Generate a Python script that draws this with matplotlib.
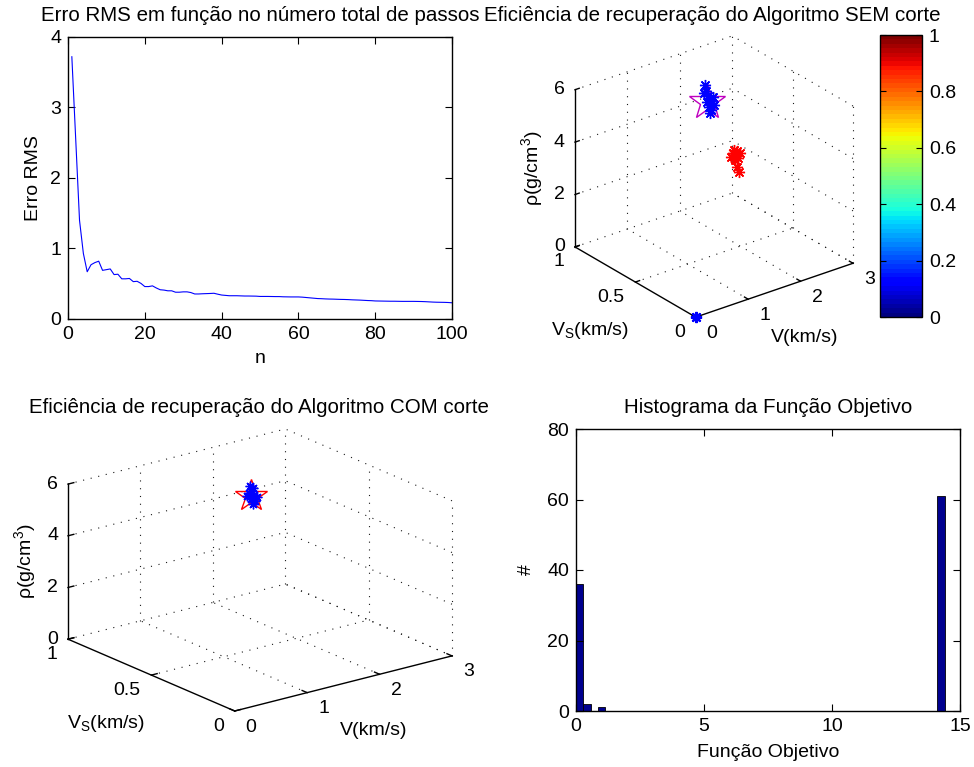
import numpy as np
import matplotlib
matplotlib.use("Agg")
import matplotlib.pyplot as plt
from matplotlib import colors
from mpl_toolkits.mplot3d import proj3d

plt.rcParams['font.family'] = ['Liberation Sans', 'DejaVu Sans']
plt.rcParams['font.size'] = 14
plt.rcParams['axes.titlesize'] = 14.8
plt.rcParams['mathtext.fontset'] = 'custom'
plt.rcParams['mathtext.rm'] = 'Liberation Sans'
plt.rcParams['mathtext.it'] = 'Liberation Sans:italic'

# ---- data ----
# RMS error vs total number of steps
n_steps = np.arange(1, 101)
rms_error = [3.72, 2.56, 1.40, 0.93, 0.67, 0.77, 0.80, 0.82, 0.69, 0.70,
             0.71, 0.63, 0.635, 0.57, 0.57, 0.575, 0.53, 0.535, 0.505, 0.46,
             0.46, 0.47, 0.44, 0.415, 0.41, 0.40, 0.40, 0.38, 0.38, 0.385,
             0.385, 0.375, 0.355, 0.355, 0.358, 0.36, 0.362, 0.365, 0.352, 0.34,
             0.335, 0.33, 0.33, 0.33, 0.328, 0.326, 0.326, 0.325, 0.324, 0.32,
             0.32, 0.32, 0.319, 0.318, 0.318, 0.315, 0.314, 0.313, 0.313, 0.313,
             0.31, 0.305, 0.30, 0.295, 0.29, 0.288, 0.285, 0.283, 0.282, 0.28,
             0.278, 0.277, 0.275, 0.272, 0.27, 0.268, 0.265, 0.262, 0.26, 0.256,
             0.255, 0.254, 0.253, 0.252, 0.252, 0.251, 0.25, 0.25, 0.25, 0.25,
             0.249, 0.248, 0.246, 0.243, 0.24, 0.238, 0.237, 0.236, 0.234, 0.23]

# objective function histogram (50 bins between 0 and 14.4)
hist_edges = np.linspace(0, 14.4, 51)
hist_counts = [36, 2, 0, 1] + [0] * 45 + [61]

# true model (V, Vs, rho)
true_v, true_vs, true_rho = 1.6, 0.6, 5.5

# inversion results without cut
sem_good_v = [1.56, 1.58, 1.62, 1.66, 1.70, 1.64, 1.68, 1.73, 1.60, 1.71, 1.54, 1.66]
sem_good_vs = [0.6] * 12
sem_good_rho = [6.20, 5.93, 5.71, 5.57, 5.39, 5.28, 5.14, 5.30, 5.50, 5.61, 5.89, 5.04]
sem_zero_v = [0.0, 0.0]
sem_zero_vs = [0.0, 0.0]
sem_zero_rho = [0.0, 0.0]
sem_bad_v = [2.15, 2.10, 2.19, 2.13, 2.23, 2.06, 2.17, 2.12, 2.17, 2.21]
sem_bad_vs = [0.6] * 10
sem_bad_rho = [3.06, 3.22, 2.95, 2.92, 3.13, 3.09, 3.24, 3.30, 2.62, 2.40]

# inversion results with cut
com_v = [1.59, 1.62, 1.65, 1.61, 1.66, 1.58, 1.69, 1.64, 1.55, 1.64]
com_vs = [0.6] * 10
com_rho = [5.92, 5.70, 5.53, 5.40, 5.29, 5.66, 5.43, 5.19, 5.56, 5.81]

v_ticks = [0, 1, 2, 3]
vs_ticks = [0, 0.5, 1]
rho_ticks = [0, 2, 4, 6]
cbar_ticks = [0, 0.2, 0.4, 0.6, 0.8, 1]
cbar_labels = ['0', '0.2', '0.4', '0.6', '0.8', '1']

W, H = 974, 767
fig = plt.figure(figsize=(W / 100, H / 100), dpi=100)


def px_rect(left, top, right, bottom):
    return [left / W, 1 - bottom / H, (right - left) / W, (bottom - top) / H]


def style_2d(ax):
    ax.tick_params(direction='in', top=True, right=True, length=5, width=0.8, pad=5)
    for sp in ax.spines.values():
        sp.set_linewidth(1.0)


# ---- top left: RMS error ----
ax1 = fig.add_axes(px_rect(68, 37, 452, 319))
ax1.plot(n_steps, rms_error, color='b', lw=0.8)
ax1.set_xlim(0, 100)
ax1.set_ylim(0, 4)
ax1.set_xticks([0, 20, 40, 60, 80, 100])
ax1.set_yticks([0, 1, 2, 3, 4])
ax1.set_xlabel('n', labelpad=5)
ax1.set_ylabel('Erro RMS', labelpad=5.5)
ax1.set_title('Erro RMS em função no número total de passos', pad=11.5)
style_2d(ax1)

# ---- bottom right: histogram ----
ax4 = fig.add_axes(px_rect(576, 429, 960, 711))
ax4.bar(hist_edges[:-1], hist_counts, width=np.diff(hist_edges), align='edge',
        color=(0, 0, 0.5625), edgecolor='k', lw=0.6)
ax4.set_xlim(0, 15)
ax4.set_ylim(0, 80)
ax4.set_xticks([0, 5, 10, 15])
ax4.set_yticks([0, 20, 40, 60, 80])
ax4.set_xlabel('Função Objetivo', labelpad=6.5)
ax4.set_ylabel('#', labelpad=9)
ax4.set_title('Histograma da Função Objetivo', pad=11.5)
style_2d(ax4)


# ---- 3D helpers ----
def label3d(ax, x, y, z, text, dx, dy, **kw):
    px, py, _ = proj3d.proj_transform(np.array([x]), np.array([y]), np.array([z]), ax.get_proj())
    ax.annotate(text, (px[0], py[0]), xytext=(dx, dy), textcoords='offset pixels',
                annotation_clip=False, **kw)


def setup_3d(ax, elev, zaspect):
    ax.set_proj_type('ortho')
    ax.view_init(elev=elev, azim=-127.5)
    ax.set_box_aspect((1, 1, zaspect))
    ax.set_xlim(0, 3)
    ax.set_ylim(0, 1)
    ax.set_zlim(0, 6)
    ax.set_axis_off()
    ax.patch.set_visible(False)
    grid_kw = dict(color='0.1', ls=(0, (1, 6)), lw=0.8, zorder=1)
    for v in v_ticks[1:]:
        ax.plot([v, v], [1, 1], [0, 6], **grid_kw)
        ax.plot([v, v], [0, 1], [0, 0], **grid_kw)
    for s in vs_ticks[:-1]:
        ax.plot([3, 3], [s, s], [0, 6], **grid_kw)
    for s in vs_ticks[1:]:
        ax.plot([0, 3], [s, s], [0, 0], **grid_kw)
    for z in rho_ticks[1:]:
        ax.plot([0, 3], [1, 1], [z, z], **grid_kw)
        ax.plot([3, 3], [0, 1], [z, z], **grid_kw)
    ax.plot([3, 3], [0, 1], [0, 0], **grid_kw)
    # solid axes
    line_kw = dict(color='k', lw=1.0, zorder=2)
    ax.plot([0, 0], [1, 1], [0, 6], **line_kw)
    ax.plot([0, 3], [0, 0], [0, 0], **line_kw)
    ax.plot([0, 0], [0, 1], [0, 0], **line_kw)
    for z in rho_ticks:
        ax.plot([0, 0.08], [1, 1], [z, z], **line_kw)
        label3d(ax, 0, 1, z, str(z), -10, 0, ha='right', va='center')
    for s, lab in zip(vs_ticks, ['0', '0.5', '1']):
        ax.plot([0, 0.08], [s, s], [0, 0], **line_kw)
        label3d(ax, 0, s, 0, lab, -11, -15, ha='right', va='center')
    for v in v_ticks:
        ax.plot([v, v], [0, 0.03], [0, 0], **line_kw)
        label3d(ax, v, 0, 0, str(v), 11, -16, ha='left', va='center')
    label3d(ax, 1.5, 0, 0, 'V(km/s)', 30, -47, ha='center', va='center')
    label3d(ax, 0, 0.5, 0, r'V$_{\rm S}$(km/s)', -45, -48, ha='center', va='center')
    label3d(ax, 0, 1, 3, 'ρ(g/cm$^3$)', -43, 0, ha='center', va='center',
            rotation=90)


def fit_3d(ax, left, top, right, bottom):
    # move/scale the 3D axes so the projected box lands on the target pixels
    fig.canvas.draw()
    cx = np.array([0, 3, 0, 3, 0, 3, 0, 3])
    cy = np.array([0, 0, 1, 1, 0, 0, 1, 1])
    cz = np.array([0, 0, 0, 0, 6, 6, 6, 6])
    xs, ys, _ = proj3d.proj_transform(cx, cy, cz, ax.get_proj())
    pts = ax.transData.transform(np.column_stack([xs, ys]))
    s = (right - left) / (pts[:, 0].max() - pts[:, 0].min())
    pos = ax.get_position(original=True)
    axc = np.array([(pos.x0 + pos.x1) / 2 * W, (pos.y0 + pos.y1) / 2 * H])
    bc = np.array([(pts[:, 0].min() + pts[:, 0].max()) / 2,
                   (pts[:, 1].min() + pts[:, 1].max()) / 2])
    tc = np.array([(left + right) / 2, H - (top + bottom) / 2])
    nc = tc - s * (bc - axc)
    w, h = pos.width * W * s, pos.height * H * s
    ax.set_position([(nc[0] - w / 2) / W, (nc[1] - h / 2) / H, w / W, h / H])


# ---- top right: without cut ----
ax2 = fig.add_axes(px_rect(544, 6, 884, 346), projection='3d', computed_zorder=False)
setup_3d(ax2, 26.5, 0.886)
ax2.plot([true_v], [true_vs], [true_rho], ls='none', marker='*', ms=27,
         mfc='none', mec='m', mew=1.0, zorder=3)
ax2.plot(sem_good_v, sem_good_vs, sem_good_rho, ls='none', marker=(8, 2, 0),
         ms=8, color='b', mew=1.0, zorder=4)
ax2.plot(sem_zero_v, sem_zero_vs, sem_zero_rho, ls='none', marker=(8, 2, 0),
         ms=8, color='b', mew=1.5, zorder=4)
ax2.plot(sem_bad_v, sem_bad_vs, sem_bad_rho, ls='none', marker=(8, 2, 0),
         ms=8, color='r', mew=1.0, zorder=4)
fig.text(712 / W, 1 - 21 / H, 'Eficiência de recuperação do Algoritmo SEM corte',
         ha='center', va='baseline', fontsize=14.8)

cax = fig.add_axes(px_rect(880, 35, 922, 317))
sm = plt.cm.ScalarMappable(norm=colors.Normalize(0, 1), cmap=plt.get_cmap('jet', 64))
cb = fig.colorbar(sm, cax=cax, ticks=cbar_ticks)
cb.set_ticklabels(cbar_labels)
cax.tick_params(direction='in', left=True, right=True, length=4, width=0.8, pad=5)
cb.outline.set_linewidth(1.0)

# ---- bottom left: with cut ----
ax3 = fig.add_axes(px_rect(30, 340, 490, 800), projection='3d', computed_zorder=False)
setup_3d(ax3, 19.3, 0.60)
ax3.plot([true_v], [true_vs], [true_rho], ls='none', marker='*', ms=24,
         mfc='none', mec='r', mew=1.0, zorder=3)
ax3.plot(com_v, com_vs, com_rho, ls='none', marker=(8, 2, 0),
         ms=7, color='b', mew=1.0, zorder=4)
fig.text(259 / W, 1 - 413 / H, 'Eficiência de recuperação do Algoritmo COM corte',
         ha='center', va='baseline', fontsize=14.8)

fit_3d(ax2, 575, 35, 853, 318)
fit_3d(ax3, 68, 428, 452, 712)

fig.savefig('out.png', dpi=100)
